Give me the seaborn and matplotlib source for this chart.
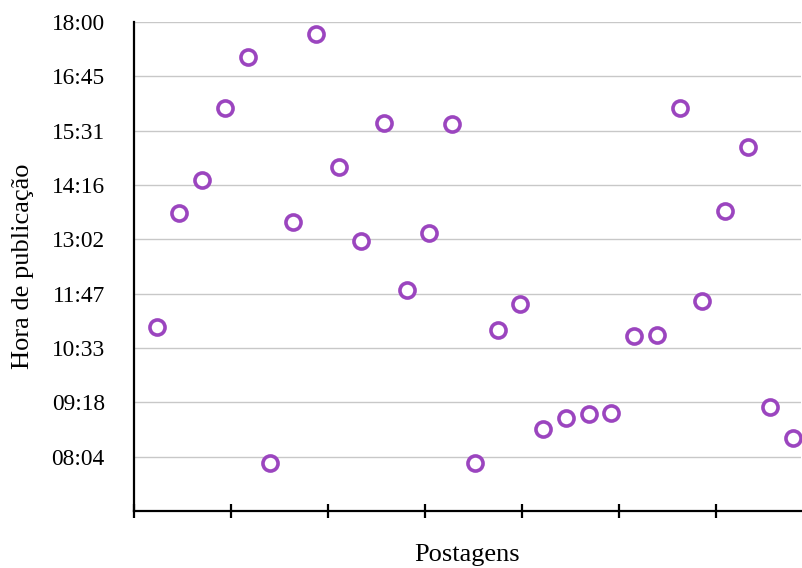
import matplotlib
matplotlib.use("Agg")
import matplotlib.pyplot as plt
import seaborn as sns
import numpy as np
import pandas as pd

# Publication times (HH:MM) for each post
times = ["11:02", "13:38", "14:23", "16:02", "17:12", "07:56", "13:26", "17:44",
         "14:41", "13:00", "15:42", "11:53", "13:11", "15:40", "07:55", "10:57",
         "11:34", "08:42", "08:57", "09:03", "09:04", "10:50", "10:51", "16:02",
         "11:38", "13:41", "15:09", "09:12", "08:29"]
posts = list(range(1, len(times) + 1))
ytick_labels = ["08:04", "09:18", "10:33", "11:47", "13:02", "14:16", "15:31", "16:45", "18:00"]

def to_min(s):
    h, m = s.split(":")
    return int(h) * 60 + int(m)

df = pd.DataFrame({"post": posts, "minutes": [to_min(t) for t in times]})

sns.set_theme(style="white")
plt.rcParams["font.family"] = ["Liberation Serif", "DejaVu Serif"]

fig = plt.figure(figsize=(8.03, 5.68), dpi=100)
ax = fig.add_axes([134 / 803, 1 - 511 / 568, (801 - 134) / 803, (511 - 22) / 568])

sns.scatterplot(data=df, x="post", y="minutes", ax=ax, marker="o", s=118,
                facecolor="white", edgecolor="#9B45BF", linewidth=2.6, zorder=3)

top = 1080.0
step = (1080 - to_min("08:04")) / 8.0
yt = [top - step * k for k in range(8, -1, -1)]
ax.set_yticks(yt)
ax.set_yticklabels(ytick_labels, fontsize=16.8)
ax.set_ylim(top - step * 9, top)

xstep = 97 / 22.73
ax.set_xlim(0, (801 - 134) / 22.73)
ax.set_xticks(np.arange(0, 29.3, xstep))
ax.set_xticklabels([])

ax.grid(axis="y", color="#c8c8c8", linewidth=1.0)
ax.grid(axis="x", visible=False)
ax.set_axisbelow(True)

for s in ["top", "right"]:
    ax.spines[s].set_visible(False)
for s in ["left", "bottom"]:
    ax.spines[s].set_color("black")
    ax.spines[s].set_linewidth(1.6)

ax.tick_params(axis="x", direction="inout", length=10, width=1.6, color="black", bottom=True)
ax.tick_params(axis="y", length=0, pad=21, labelcolor="black")

ax.set_xlabel("Postagens", fontsize=19, color="black")
ax.xaxis.set_label_coords(0.5, -0.068)
ax.xaxis.label.set_va("top")
ax.set_ylabel("Hora de publicação", fontsize=19, color="black")
ax.yaxis.set_label_coords(-0.166, 0.5)
ax.yaxis.label.set_va("center")

fig.savefig("out.png", dpi=100)
